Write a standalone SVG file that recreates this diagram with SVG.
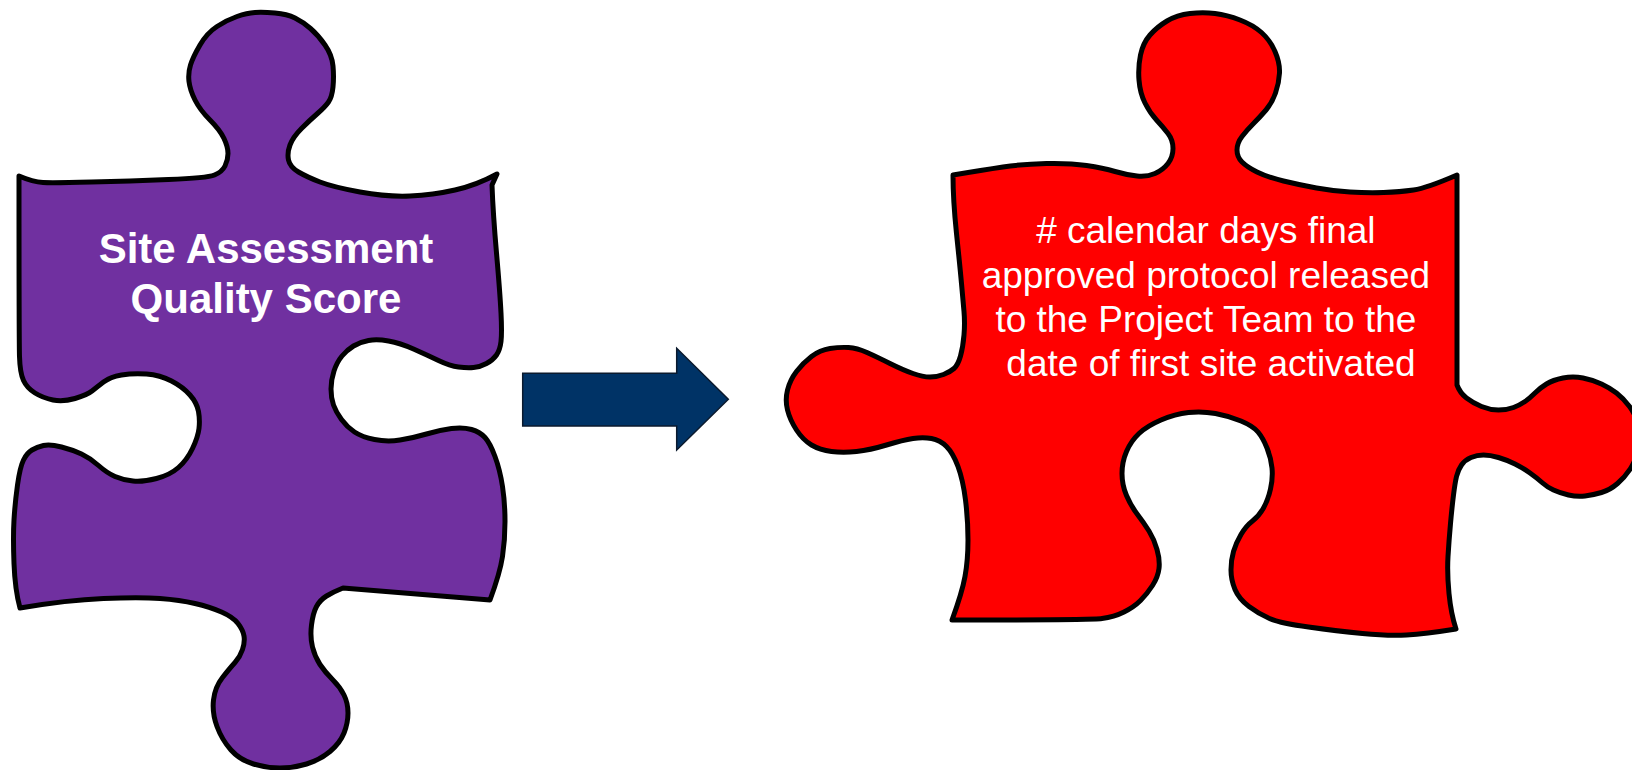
<svg xmlns="http://www.w3.org/2000/svg" width="1632" height="770" viewBox="0 0 1632 770">
<style>
.piece{stroke:#000;stroke-width:5;stroke-linejoin:round}
.purple{fill:#7030A0}
.red{fill:#FF0000}
.lbl{fill:#fff;font-family:"Liberation Sans",Arial,sans-serif;text-anchor:middle}
.bold{font-weight:bold;font-size:42px}
.reg{font-size:37px}
</style>
<rect width="1632" height="770" fill="#fff"/>
<g id="piece-site-assessment">
<path class="piece purple" d="M19,176 Q33,182 43,182.5 Q53,183 91.5,182 Q130,181 168.5,179.5 Q207,178 214.5,175 Q222,172 225,166 Q228,160 228,153.5 Q228,147 224,138.5 Q220,130 210,120 Q200,110 195,100 Q190,90 189,81.5 Q188,73 190.5,65 Q193,57 200,45 Q207,33 217,26.5 Q227,20 237,16.5 Q247,13 255,12.5 Q263,12 275,13 Q287,14 295,18 Q303,22 310.5,28.5 Q318,35 325,45 Q332,55 333,66 Q334,77 333,87 Q332,97 328.5,102 Q325,107 317.5,113.5 Q310,120 301.5,128.5 Q293,137 290,145 Q287,153 288.5,160 Q290,167 298.5,172 Q307,177 320,182 Q333,187 360,192 Q387,197 410,196 Q433,195 455,190 Q477,185 497,174 L492,185 Q493,213 496.5,253 Q500,293 501,313 Q502,333 501,341.5 Q500,350 496.5,355 Q493,360 486.5,363.5 Q480,367 473.5,367.5 Q467,368 458.5,367 Q450,366 438.5,360.5 Q427,355 413.5,349 Q400,343 388.5,341 Q377,339 368.5,340.5 Q360,342 353.5,346 Q347,350 342,356 Q337,362 334,371 Q331,380 331,389 Q331,398 333.5,405 Q336,412 341.5,419.5 Q347,427 354.5,432 Q362,437 374.5,439.5 Q387,442 400,440 Q413,438 426.5,434 Q440,430 451.5,428.5 Q463,427 471.5,429.5 Q480,432 485,437.5 Q490,443 495,456.5 Q500,470 502.5,486.5 Q505,503 505,521.5 Q505,540 502.5,556.5 Q500,573 490,600 L343,588 Q333,592 326.5,596 Q320,600 316.5,606.5 Q313,613 311.5,625 Q310,637 312.5,647 Q315,657 320,664.5 Q325,672 332.5,679.5 Q340,687 344,695 Q348,703 348,713 Q348,723 344,733 Q340,743 330,751.5 Q320,760 306.5,764 Q293,768 280,768 Q267,768 253.5,764 Q240,760 231,750 Q222,740 217,726.5 Q212,713 213.5,700 Q215,687 222.5,677.5 Q230,668 235,662.5 Q240,657 242.5,649.5 Q245,642 244,636 Q243,630 238,623.5 Q233,617 221.5,612 Q210,607 195,603.5 Q180,600 160,598.5 Q140,597 103.5,598.5 Q67,600 20,608 Q15,590 14,563.5 Q13,537 14,520 Q15,503 17.5,485 Q20,467 23.5,460 Q27,453 32,450 Q37,447 43.5,445.5 Q50,444 61.5,447 Q73,450 81.5,454 Q90,458 98.5,465.5 Q107,473 115,476.5 Q123,480 133,481 Q143,482 156.5,478.5 Q170,475 178.5,467.5 Q187,460 192.5,448.5 Q198,437 199,428.5 Q200,420 198.5,411.5 Q197,403 190,395 Q183,387 171.5,381 Q160,375 146.5,374 Q133,373 121.5,375 Q110,377 103.5,382 Q97,387 92,391 Q87,395 75,398.5 Q63,402 53,400 Q43,398 35,393 Q27,388 23.5,380.5 Q20,373 19.5,356.5 Q19,340 19,176 Z"/>
<text class="lbl bold" x="266" y="263">Site Assessment</text>
<text class="lbl bold" x="266" y="313">Quality Score</text>
</g>
<g id="connectors">
<polygon points="522.7,373.3 676.7,373.3 676.7,348.3 728.3,399.3 676.7,450 676.7,426 522.7,426" fill="#003366" stroke="#0b1a2e" stroke-width="1.5" stroke-linejoin="miter"/>
</g>
<g id="piece-calendar-days">
<path class="piece red" d="M953,175 Q983,170 1003,167 Q1023,164 1046.5,163.5 Q1070,163 1086.5,165.5 Q1103,168 1115,171.5 Q1127,175 1137,176 Q1147,177 1155,173.5 Q1163,170 1168,163.5 Q1173,157 1173,148.5 Q1173,140 1168,133.5 Q1163,127 1156.5,120 Q1150,113 1145,103 Q1140,93 1139,80 Q1138,67 1140.5,55 Q1143,43 1150,35 Q1157,27 1167,21 Q1177,15 1190,13.5 Q1203,12 1215,13.5 Q1227,15 1240,20 Q1253,25 1261.5,32.5 Q1270,40 1275,51.5 Q1280,63 1279.5,73 Q1279,83 1275.5,93 Q1272,103 1266,110 Q1260,117 1253.5,123.5 Q1247,130 1242,136.5 Q1237,143 1237,150 Q1237,157 1242,162 Q1247,167 1257,172 Q1267,177 1283.5,181 Q1300,185 1316.5,188 Q1333,191 1350,192 Q1367,193 1383.5,192.5 Q1400,192 1413.5,190 Q1427,188 1457,175 L1457,385 Q1460,393 1466.5,398 Q1473,403 1481.5,406.5 Q1490,410 1498.5,410 Q1507,410 1513.5,407.5 Q1520,405 1525,401.5 Q1530,398 1535,393 Q1540,388 1546.5,384 Q1553,380 1563,378 Q1573,376 1583,378 Q1593,380 1601.5,384 Q1610,388 1616.5,393 Q1623,398 1629.5,406.5 Q1636,415 1638.5,426 Q1641,437 1638.5,448.5 Q1636,460 1630.5,468.5 Q1625,477 1617.5,483.5 Q1610,490 1601.5,492.5 Q1593,495 1585,496 Q1577,497 1568.5,495 Q1560,493 1553.5,490 Q1547,487 1542,482.5 Q1537,478 1530,473 Q1523,468 1515,464 Q1507,460 1498.5,457.5 Q1490,455 1483.5,455 Q1477,455 1471,457.5 Q1465,460 1461.5,465 Q1458,470 1456.5,476.5 Q1455,483 1453.5,495 Q1452,507 1450.5,523.5 Q1449,540 1448,556.5 Q1447,573 1449,593.5 Q1451,614 1456,629 Q1425,634 1406.5,635 Q1388,636 1362.5,633.5 Q1337,631 1308.5,627 Q1280,623 1269.5,618.5 Q1259,614 1249,606.5 Q1239,599 1235,589.5 Q1231,580 1231,570 Q1231,560 1233.5,551.5 Q1236,543 1241,534.5 Q1246,526 1252.5,521 Q1259,516 1263.5,508 Q1268,500 1270.5,489 Q1273,478 1272,468 Q1271,458 1267,448 Q1263,438 1258,432 Q1253,426 1241,421 Q1229,416 1215.5,413.5 Q1202,411 1188.5,412.5 Q1175,414 1161,420 Q1147,426 1139,433.5 Q1131,441 1126.5,451.5 Q1122,462 1122,473.5 Q1122,485 1126.5,495.5 Q1131,506 1137.5,514.5 Q1144,523 1149,531 Q1154,539 1157,549.5 Q1160,560 1159,568.5 Q1158,577 1152.5,585.5 Q1147,594 1140.5,600.5 Q1134,607 1124,612 Q1114,617 1102,618.5 Q1090,620 952,620 Q962,593 965,576.5 Q968,560 968,540 Q968,520 965.5,500 Q963,480 958,466.5 Q953,453 946.5,446.5 Q940,440 931.5,438.5 Q923,437 913,438.5 Q903,440 886.5,445 Q870,450 856.5,451.5 Q843,453 831.5,451.5 Q820,450 811.5,445 Q803,440 796.5,430 Q790,420 787.5,410 Q785,400 787.5,390 Q790,380 796.5,371.5 Q803,363 811.5,356.5 Q820,350 830,348.5 Q840,347 848.5,347.5 Q857,348 867,352.5 Q877,357 890,363.5 Q903,370 913,373.5 Q923,377 930,377 Q937,377 943.5,374.5 Q950,372 954,368.5 Q958,365 960.5,356 Q963,347 964,335 Q965,323 964,311.5 Q963,300 961.5,283.5 Q960,267 956.5,233.5 Q953,200 953,175 Z"/>
<text class="lbl reg" x="1211" y="243">
<tspan x="1211" y="243"># calendar days final</tspan>
<tspan x="1211" y="287.5">approved protocol released</tspan>
<tspan x="1211" y="331.5">to the Project Team to the</tspan>
<tspan x="1211" y="376">date of first site activated</tspan>
</text>
</g>
</svg>
